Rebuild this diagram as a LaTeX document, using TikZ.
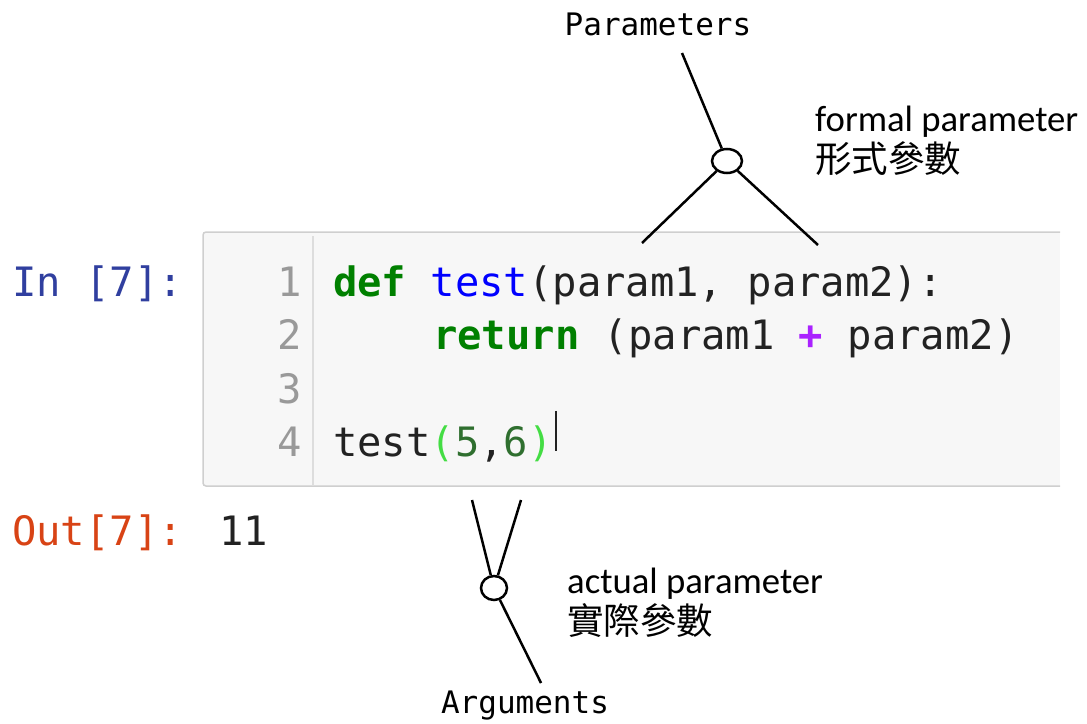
\documentclass[tikz,border=0pt]{standalone}
\usepackage{fontspec}
\setmainfont{Carlito}
\newfontfamily\cjk{Noto Sans CJK TC}
\newfontfamily\codefont{DejaVu Sans Mono}
\usetikzlibrary{shapes.geometric}
\definecolor{kwgreen}{HTML}{008000}
\definecolor{fnblue}{HTML}{0000FF}
\definecolor{oppurple}{HTML}{AA22FF}
\definecolor{numgreen}{HTML}{2F6F2F}
\definecolor{brgreen}{HTML}{44DD44}
\definecolor{inblue}{HTML}{303F9F}
\definecolor{outred}{HTML}{D84315}
\definecolor{codetext}{HTML}{222222}
\definecolor{gutter}{HTML}{999999}
\definecolor{cellfill}{HTML}{F7F7F7}
\definecolor{cellborder}{HTML}{CFCFCF}
\definecolor{gutterline}{HTML}{DDDDDD}
\tikzset{
  code/.style={inner sep=0pt, anchor=base west, text=codetext, font=\codefont\fontsize{40.5}{48}\selectfont},
  lineno/.style={inner sep=0pt, anchor=base east, text=gutter, font=\codefont\fontsize{40.5}{48}\selectfont},
  term/.style={inner sep=0pt, font=\codefont\fontsize{31}{36}\selectfont},
  note/.style={inner sep=0pt, anchor=base west, font=\fontsize{36.7}{44}\selectfont},
  cjknote/.style={inner sep=0pt, anchor=base west, font=\cjk\fontsize{36.5}{44}\selectfont},
  joint/.style={draw, ellipse, line width=2.5pt, inner sep=0pt},
  leg/.style={line width=2.5pt}
}
\begin{document}
\begin{tikzpicture}[x=1pt,y=-1pt]
\useasboundingbox (0,0) rectangle (1087,723);
% cell
\fill[cellfill] (203,232) rectangle (1060,486);
\draw[cellborder, line width=1.5pt, rounded corners=3pt] (1060,232) -- (203,232) -- (203,486) -- (1060,486);
\draw[gutterline, line width=1.5pt] (313,236) -- (313,486);
% prompts
\node[code, text=inblue] (inprompt) at (12,296) {In [7]:};
\node[code, text=outred] (outprompt) at (12,545) {Out[7]:};
\node[code] (outval) at (219,545) {11};
% line numbers
\node[lineno] (n1) at (302,296) {1};
\node[lineno] (n2) at (302,349.5) {2};
\node[lineno] (n3) at (302,403) {3};
\node[lineno] (n4) at (302,456.5) {4};
% code
\node[code] (l1) at (333,296) {\textcolor{kwgreen}{\bfseries def} \textcolor{fnblue}{test}(param1, param2):};
\node[code] (l2) at (433,349.5) {\textcolor{kwgreen}{\bfseries return} (param1 \textcolor{oppurple}{\bfseries +} param2)};
\node[code] (l4) at (333,456.5) {test\textcolor{brgreen}{(}\textcolor{numgreen}{5},\textcolor{numgreen}{6}\textcolor{brgreen}{)}};
\draw[codetext, line width=1.5pt] (l4.east) ++(3,-33) coordinate (cura) -- ++(0,40) coordinate (curb);
% parameters annotation
\node[term, anchor=base] (params) at (658,35) {Parameters};
\node[joint, minimum width=30pt, minimum height=24pt] (pc) at (727,161) {};
\coordinate (ptop) at (682,53);
\coordinate (pl) at (642,243);
\coordinate (pr) at (818,245);
\draw[leg] (ptop) -- (pc);
\draw[leg] (pc) -- (pl);
\draw[leg] (pc) -- (pr);
\node[note] (formal) at (815,131) {formal parameter};
\node[cjknote] (formalzh) at (815,172) {形式參數};
% arguments annotation
\node[joint, minimum width=26pt, minimum height=24pt] (ac) at (494,588) {};
\coordinate (al) at (472,500);
\coordinate (ar) at (521,500);
\coordinate (ab) at (541,683);
\draw[leg] (al) -- (ac);
\draw[leg] (ar) -- (ac);
\draw[leg] (ac) -- (ab);
\node[term, anchor=base] (args) at (525,713) {Arguments};
\node[note] (actual) at (567,593) {actual parameter};
\node[cjknote] (actualzh) at (567,634) {實際參數};
\end{tikzpicture}
\end{document}
